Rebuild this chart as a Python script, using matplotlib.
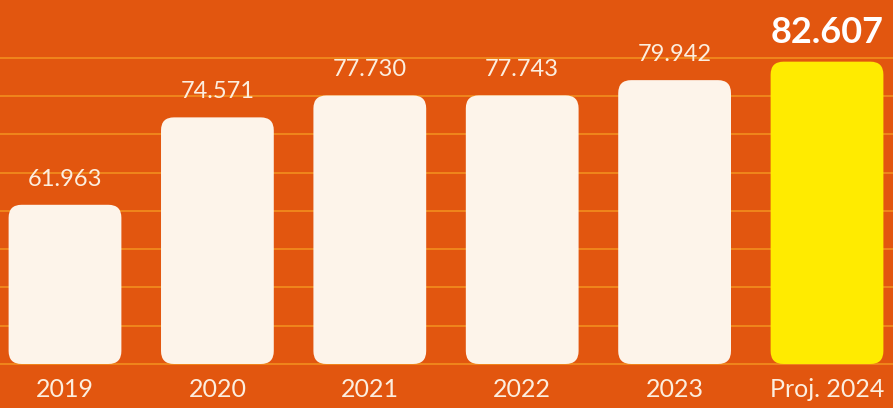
import numpy as np
import matplotlib
matplotlib.use("Agg")
import matplotlib.pyplot as plt
from matplotlib.patches import FancyBboxPatch

years = ["2019", "2020", "2021", "2022", "2023", "Proj. 2024"]
values = [61963, 74571, 77730, 77743, 79942, 82607]
value_labels = ["61.963", "74.571", "77.730", "77.743", "79.942", "82.607"]

BG = "#E2560F"
GRID = "#F0861C"
CREAM = "#FDF4EA"
YELLOW = "#FFEB00"
TEXT = "#FCEEDF"

base = 39000
fig = plt.figure(figsize=(8.93, 4.08), dpi=100)
fig.patch.set_facecolor(BG)
ax = fig.add_axes([0, 44 / 408, 1, 364 / 408])
ax.set_facecolor(BG)
ax.set_xlim(-0.4265, 5.433)
ax.set_ylim(base, 91500)

# faint horizontal lines behind the bars
for y in np.linspace(base, base + 8 * 5520, 9):
    ax.axhline(y, color=GRID, lw=1.4, zorder=0, clip_on=False)

x = np.arange(len(years))
width = 0.74
colors = [CREAM] * (len(years) - 1) + [YELLOW]
bars = ax.bar(x, np.array(values) - base, bottom=base, width=width, color=colors)

# swap the square bars for rounded ones
px_x = 893 / (5.433 + 0.4265)
px_y = 364 / (91500 - base)
aspect = px_x / px_y
for b, c in zip(bars, colors):
    b.set_visible(False)
    r = 0.085
    patch = FancyBboxPatch((b.get_x() + r, b.get_y() + r * aspect),
                           b.get_width() - 2 * r, b.get_height() - 2 * r * aspect,
                           boxstyle=f"round,pad={r},rounding_size={r}",
                           mutation_aspect=aspect, facecolor=c, edgecolor="none", zorder=2)
    ax.add_patch(patch)

for i, (v, lab) in enumerate(zip(values, value_labels)):
    last = i == len(values) - 1
    ax.annotate(lab, (x[i], v), xytext=(0, 9 if last else 11), textcoords="offset points",
                ha="center", va="bottom", color="white" if last else TEXT,
                fontsize=26 if last else 17, fontweight="bold" if last else "normal",
                family="Lato", zorder=3)

ax.set_xticks(x)
ax.set_xticklabels(years, fontsize=18, color=TEXT, family="Lato", fontweight="normal")
ax.tick_params(axis="x", length=0, pad=10)
ax.set_yticks([])
for s in ax.spines.values():
    s.set_visible(False)

fig.savefig("out.png", dpi=100, facecolor=BG)
